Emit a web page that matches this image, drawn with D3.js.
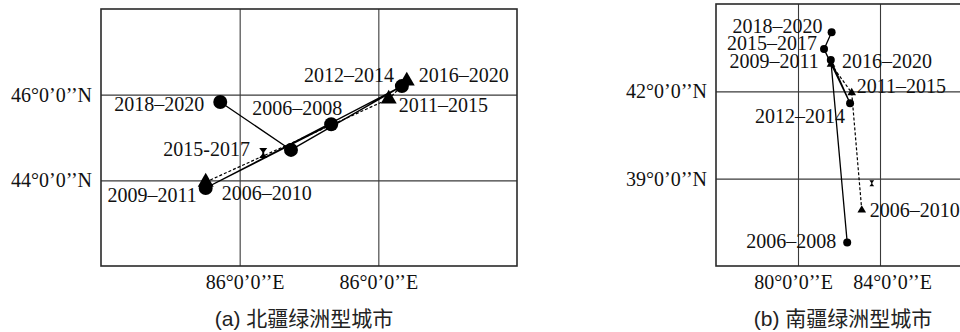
<!DOCTYPE html>
<html>
<head>
<meta charset="utf-8">
<script src="https://cdn.jsdelivr.net/npm/d3@7"></script>
<style>
  html, body { margin: 0; padding: 0; background: #fff; }
  svg { display: block; }
  .lbl { font-family: "Liberation Serif", "Times New Roman", serif; font-size: 20px; fill: #111; }
  .tick text { font-family: "Liberation Serif", "Times New Roman", serif; font-size: 20px; fill: #111; }
  .cap { font-size: 21px; fill: #222; }
</style>
</head>
<body>
<svg id="chart" width="960" height="332"></svg>
<script>
// ---- (a) 北疆绿洲型城市 ----
// three-year windows (circles, solid track)
const northPeriods3 = ["2006–2008", "2009–2011", "2012–2014", "2015-2017", "2018–2020"];
const northLon3 = [86.32, 84.51, 87.34, 85.74, 84.72];
const northLat3 = [45.31, 43.82, 46.20, 44.71, 45.83];
// five-year windows (triangles, dashed track)
const northPeriods5 = ["2006–2010", "2011–2015", "2016–2020"];
const northLon5 = [84.51, 87.15, 87.41];
const northLat5 = [43.96, 45.90, 46.32];
// reference point
const northRefLon = [85.34];
const northRefLat = [44.64];
const northLonTicks = [85, 87];
const northLonTickLabels = ["86°0’0’’E", "86°0’0’’E"];
const northLatTicks = [44, 46];
const northLatTickLabels = ["44°0’0’’N", "46°0’0’’N"];

// ---- (b) 南疆绿洲型城市 ----
const southPeriods3 = ["2006–2008", "2009–2011", "2012–2014", "2015–2017", "2018–2020"];
const southLon3 = [82.40, 81.60, 82.54, 81.27, 81.64];
const southLat3 = [36.81, 43.08, 41.59, 43.45, 44.03];
const southPeriods5 = ["2006–2010", "2011–2015", "2016–2020"];
const southLon5 = [83.11, 82.62, 81.61];
const southLat5 = [37.92, 41.95, 42.93];
const southRefLon = [83.60];
const southRefLat = [38.84];
const southLonTicks = [80, 84];
const southLonTickLabels = ["80°0’0’’E", "84°0’0’’E"];
const southLatTicks = [39, 42];
const southLatTickLabels = ["39°0’0’’N", "42°0’0’’N"];

const svg = d3.select("#chart");

function drawPanel(cfg) {
  const g = svg.append("g").attr("transform", `translate(${cfg.left},${cfg.top})`);
  const w = cfg.width, h = cfg.height;
  const x = d3.scaleLinear().domain(cfg.lonDomain).range([0, w]);
  const y = d3.scaleLinear().domain(cfg.latDomain).range([h, 0]);

  // graticule + coordinate labels
  const xAxis = d3.axisBottom(x)
    .tickValues(cfg.lonTicks)
    .tickFormat((d, i) => cfg.lonLabels[i])
    .tickSizeInner(-h).tickSizeOuter(0).tickPadding(9);
  const yAxis = d3.axisLeft(y)
    .tickValues(cfg.latTicks)
    .tickFormat((d, i) => cfg.latLabels[i])
    .tickSizeInner(-w).tickSizeOuter(0).tickPadding(9);

  const gx = g.append("g").attr("transform", `translate(0,${h})`).call(xAxis);
  const gy = g.append("g").call(yAxis);
  [gx, gy].forEach(a => {
    a.select(".domain").remove();
    a.selectAll(".tick line").attr("stroke", "#3a3a3a").attr("stroke-width", 1.1);
  });
  gx.selectAll(".tick text").attr("dx", (d, i) => cfg.lonLabelNudge[i]);

  g.append("rect").attr("x", 0).attr("y", 0).attr("width", w).attr("height", h)
    .attr("fill", "none").attr("stroke", "#2a2a2a").attr("stroke-width", 1.6);

  const pts3 = cfg.lon3.map((lon, i) => ({ lon, lat: cfg.lat3[i], name: cfg.periods3[i] }));
  const pts5 = cfg.lon5.map((lon, i) => ({ lon, lat: cfg.lat5[i], name: cfg.periods5[i] }));
  const line = d3.line().x(d => x(d.lon)).y(d => y(d.lat));

  g.append("path").datum(pts5).attr("d", line)
    .attr("fill", "none").attr("stroke", "#000").attr("stroke-width", 1.2)
    .attr("stroke-dasharray", "3,2");
  g.append("path").datum(pts3).attr("d", line)
    .attr("fill", "none").attr("stroke", "#000").attr("stroke-width", 1.3);

  g.selectAll(".tri").data(pts5).join("path")
    .attr("transform", d => `translate(${x(d.lon)},${y(d.lat)})`)
    .attr("d", d3.symbol(d3.symbolTriangle, cfg.triSize)())
    .attr("fill", "#000");
  g.selectAll(".dot").data(pts3).join("circle")
    .attr("cx", d => x(d.lon)).attr("cy", d => y(d.lat))
    .attr("r", cfg.dotR).attr("fill", "#000");

  // reference marker (hourglass)
  const s = cfg.refScale;
  const hour = `M${-4*s},${-5*s}H${4*s}L${1*s},${-1*s}V${1*s}L${4*s},${5*s}H${-4*s}L${-1*s},${1*s}V${-1*s}Z`;
  g.selectAll(".ref").data(cfg.refLon.map((lon, i) => ({ lon, lat: cfg.refLat[i] }))).join("path")
    .attr("transform", d => `translate(${x(d.lon)},${y(d.lat)})`)
    .attr("d", hour).attr("fill", "#000");

  // period annotations
  const ann = (pts, offs) => pts.forEach((d, i) => {
    const o = offs[i];
    g.append("text").attr("class", "lbl")
      .attr("x", x(d.lon) + o[0]).attr("y", y(d.lat) + o[1])
      .attr("text-anchor", o[2])
      .text(d.name);
  });
  ann(pts3, cfg.off3);
  ann(pts5, cfg.off5);

  svg.append("text").attr("class", "cap")
    .attr("x", cfg.capX).attr("y", 326).attr("text-anchor", "middle")
    .call(t => {
      t.append("tspan").attr("font-family", "'Liberation Sans', Arial, sans-serif").text(cfg.capPrefix + " ");
      t.append("tspan").attr("font-family", "'Noto Sans CJK SC', sans-serif").text(cfg.capText);
    });
}

drawPanel({
  left: 101, top: 9, width: 416, height: 257,
  lonDomain: [83, 89], latDomain: [42, 48],
  lonTicks: northLonTicks, lonLabels: northLonTickLabels, lonLabelNudge: [5, 0],
  latTicks: northLatTicks, latLabels: northLatTickLabels,
  periods3: northPeriods3, lon3: northLon3, lat3: northLat3,
  periods5: northPeriods5, lon5: northLon5, lat5: northLat5,
  refLon: northRefLon, refLat: northRefLat, refScale: 1,
  dotR: 7, triSize: 110,
  off3: [[11, -9, "end"], [-9, 14, "end"], [-8, -4, "end"], [-41, 6, "end"], [-16, 9, "end"]],
  off5: [[16, 18, "start"], [10, 13, "start"], [12, 1, "start"]],
  capX: 304, capPrefix: "(a)", capText: "北疆绿洲型城市"
});

drawPanel({
  left: 716, top: 4, width: 246, height: 262,
  lonDomain: [76, 88], latDomain: [36, 45],
  lonTicks: southLonTicks, lonLabels: southLonTickLabels, lonLabelNudge: [-5, 12],
  latTicks: southLatTicks, latLabels: southLatTickLabels,
  periods3: southPeriods3, lon3: southLon3, lat3: southLat3,
  periods5: southPeriods5, lon5: southLon5, lat5: southLat5,
  refLon: southRefLon, refLat: southRefLat, refScale: 0.6,
  dotR: 4, triSize: 32,
  off3: [[-11, 6, "end"], [-12, 8, "end"], [-5, 20, "end"], [-7, 1, "end"], [-9, 1, "end"]],
  off5: [[8, 7, "start"], [5, 0, "start"], [11, 4, "start"]],
  capX: 843, capPrefix: "(b)", capText: "南疆绿洲型城市"
});
</script>
</body>
</html>
